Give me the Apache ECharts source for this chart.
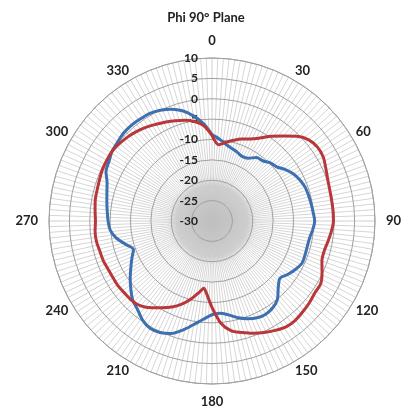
<!DOCTYPE html>
<html><head><meta charset="utf-8">
<script src="https://cdn.jsdelivr.net/npm/echarts@6/dist/echarts.min.js"></script>
<style>html,body{margin:0;padding:0;background:#fff}#c{width:412px;height:416px}</style>
</head><body><div id="c"></div>
<script>
const angles = [0,5,10,15,20,25,30,35,40,45,50,55,60,65,70,75,80,85,90,95,100,105,110,115,120,125,130,135,140,145,150,155,160,165,170,175,180,185,187,190,195,200,205,210,215,220,225,230,235,240,245,250,255,260,265,270,275,280,285,290,295,300,305,310,315,320,325,330,335,340,345,350,355];
const blue = [-8.8,-9.8,-10.8,-11.5,-12,-12.5,-12.2,-11,-10.7,-9.8,-9.3,-8,-6.9,-6.2,-5.7,-5.5,-5.3,-5.1,-4.8,-5.2,-5.7,-5.8,-5.7,-5.6,-6.3,-7.2,-8.2,-7.0,-5.0,-4.0,-3.6,-3.8,-4.5,-5.4,-6.6,-7.3,-7.0,-5.8,-5.2,-4.2,-2.3,-0.6,0.2,0.4,-0.3,-1.6,-2.5,-4.0,-5.5,-7.0,-8.3,-9.5,-8.0,-6.1,-4.9,-4.5,-4.2,-3.8,-3.3,-2.6,-1.3,-0.8,-0.1,0.2,0.6,0.7,0.6,0.5,0.0,-0.8,-2.0,-3.8,-6.0];
const red = [-9,-11.2,-10.4,-9.5,-8.6,-7.8,-6.5,-4.6,-2.8,-0.6,1.0,1.6,1.5,0.8,0.2,-0.1,-0.2,-0.2,-0.2,-0.6,-1.1,-1.5,-1.3,-0.2,0.8,0.8,1.2,1.5,1.8,1.7,1.0,0.2,-0.7,-1.7,-2.6,-4.8,-8.8,-12.6,-13.4,-12.3,-10.2,-8.3,-6.7,-5.4,-4.0,-2.8,-2.3,-2.2,-2.0,-2.0,-1.9,-1.6,-1.5,-1.2,-1.2,-1.4,-1.2,-0.9,-0.8,-0.6,-0.3,-0.2,-0.1,-0.4,-0.8,-1.3,-1.9,-2.6,-3.2,-3.8,-4.4,-5.2,-6.5];
const angleTicks = [0,30,60,90,120,150,180,210,240,270,300,330];
const radiusTicks = [-30,-25,-20,-15,-10,-5,0,5,10];

function pts(vals){const d=angles.map((a,i)=>[vals[i],a]);d.push([vals[0],360]);return d;}
const FONT='Lato';
const chart = echarts.init(document.getElementById('c'),null,{renderer:'canvas'});
chart.setOption({
  animation:false,
  title:{text:'Phi 90\u00B0 Plane',left:'center',top:6,textStyle:{fontFamily:FONT,fontWeight:'bold',fontSize:13,color:'#222'}},
  polar:{center:[212,221],radius:163},
  angleAxis:{type:'value',min:0,max:360,interval:30,startAngle:90,clockwise:true,
    axisLine:{show:true,lineStyle:{color:'#a8a8a8',width:1}},
    axisTick:{show:false},
    axisLabel:{margin:3,fontFamily:FONT,fontWeight:'bold',fontSize:13,color:'#222',
      formatter:v=>angleTicks.includes(v)?(v%90===0?'{a|'+v+'}':'{b|'+v+'}'):'',
      rich:{a:{padding:8,fontFamily:FONT,fontWeight:'bold',fontSize:13,color:'#222'},
            b:{padding:0,fontFamily:FONT,fontWeight:'bold',fontSize:13,color:'#222'}}},
    splitLine:{show:true,lineStyle:{color:'#d0d0d0',width:1}},
    minorTick:{show:false,splitNumber:15},
    minorSplitLine:{show:true,lineStyle:{color:'#d6d6d6',width:1}}
  },
  radiusAxis:{type:'value',min:-30,max:10,interval:5,z:2,
    axisLine:{show:false},axisTick:{show:false},
    axisLabel:{fontFamily:FONT,fontWeight:'bold',fontSize:12,color:'#222',margin:14,
      formatter:v=>radiusTicks.includes(v)?String(v):''},
    splitLine:{show:true,lineStyle:{color:'#a0a0a0',width:1}}
  },
  series:[
    {type:'line',coordinateSystem:'polar',data:pts(blue),smooth:0.3,showSymbol:false,
     lineStyle:{color:'#3d70b0',width:3},z:3},
    {type:'line',coordinateSystem:'polar',data:pts(red),smooth:0.3,showSymbol:false,
     lineStyle:{color:'#b8373a',width:3},z:4}
  ]
});
// soft grey centre disc, located through the polar scale
const c0 = chart.convertToPixel({polarIndex:0},[-30,0]);
const c1 = chart.convertToPixel({polarIndex:0},[-19,0]);
const rr = Math.hypot(c1[0]-c0[0],c1[1]-c0[1]);
chart.setOption({graphic:[{type:'circle',z:1,silent:true,shape:{cx:c0[0],cy:c0[1],r:rr},
  style:{fill:new echarts.graphic.RadialGradient(0.5,0.5,0.5,[
    {offset:0,color:'rgba(188,188,188,0.9)'},{offset:0.8,color:'rgba(200,200,200,0.75)'},{offset:1,color:'rgba(215,215,215,0)'}])}}]});
</script></body></html>
